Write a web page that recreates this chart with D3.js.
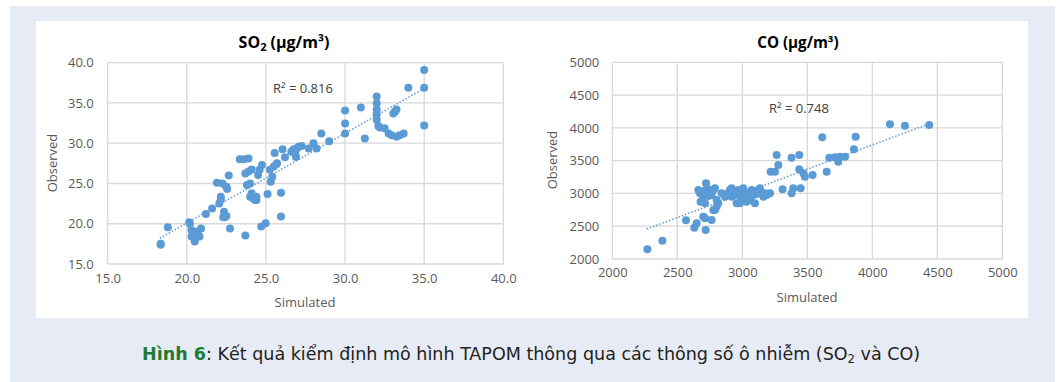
<!DOCTYPE html>
<html>
<head>
<meta charset="utf-8">
<script src="https://cdnjs.cloudflare.com/ajax/libs/d3/7.8.5/d3.min.js"></script>
<style>
  html, body { margin: 0; padding: 0; background: #fff; }
  svg text { font-family: "Open Sans", "Liberation Sans", sans-serif; }
</style>
</head>
<body>
<script>
// SO2 scatter: [simulated, observed]
var so2Points = [
  [18.35,17.4],[18.35,17.5],[18.8,19.55],[20.15,20.2],[20.2,20.0],[20.3,19.2],[20.4,18.8],[20.3,18.4],
  [20.5,18.0],[20.5,17.8],[20.7,18.6],[20.8,18.4],[20.9,19.4],[20.6,19.0],[21.2,21.2],[21.6,21.9],
  [21.9,25.1],[22.05,22.5],[22.15,23.35],[22.15,23.0],[22.25,25.0],[22.5,24.6],[22.55,24.3],[22.65,26.0],
  [22.35,21.5],[22.4,20.8],[22.5,20.95],[22.3,20.8],[22.73,19.4],[23.35,28.0],[23.6,28.0],[23.9,28.1],
  [23.7,26.25],[23.9,26.5],[24.1,26.75],[23.8,24.8],[24.0,25.0],[24.1,23.8],[24.0,23.35],[24.2,23.15],
  [24.3,22.95],[24.4,23.35],[24.4,22.95],[23.7,18.55],[24.5,26.05],[24.6,26.7],[24.75,27.3],[24.7,19.65],
  [24.98,20.05],[25.1,23.7],[25.25,26.7],[25.3,25.2],[25.4,25.85],[25.5,27.1],[25.65,27.4],[25.55,28.8],
  [25.7,27.5],[25.95,23.85],[25.95,20.9],[26.05,29.25],[26.2,28.25],[26.6,28.95],[26.75,29.25],[26.85,28.75],
  [26.9,28.3],[26.95,29.35],[27.05,29.55],[27.25,29.65],[26.8,29.0],[27.7,29.35],[28.0,30.0],[28.2,29.35],
  [28.5,31.2],[29.0,30.25],[30.0,34.05],[30.0,32.45],[30.0,31.2],[31.0,34.45],[31.25,30.6],[32.0,35.8],
  [32.0,34.95],[32.0,34.2],[32.0,33.6],[32.0,32.9],[32.1,32.15],[32.2,31.95],[32.5,31.85],[32.75,31.2],
  [32.95,31.0],[33.05,33.7],[33.15,33.9],[33.25,34.2],[33.25,30.8],[33.45,31.0],[33.7,31.2],[34.0,36.9],
  [35.0,39.1],[35.0,36.9],[35.0,32.2]
];
var so2Trend = [[18.3,18.2],[34.9,36.7]];
var so2Ticks = [15, 20, 25, 30, 35, 40];

// CO scatter: [simulated, observed]
var coPoints = [
  [2270,2150],[2385,2280],[2567,2590],[2631,2478],[2649,2544],[2718,2443],[2700,2646],[2713,2620],
  [2764,2595],[2662,3052],[2674,3002],[2679,2875],[2721,3154],[2726,3078],[2738,3002],[2751,3052],
  [2700,2926],[2713,2850],[2764,2977],[2777,3052],[2790,3078],[2803,2900],[2790,2748],[2803,2799],
  [2815,2850],[2777,2748],[2841,3002],[2867,2951],[2892,3002],[2905,3052],[2918,3078],[2918,2951],
  [2944,2977],[2956,2850],[2969,3052],[2982,2850],[2995,3002],[3008,3078],[3021,2951],[3033,2875],
  [3046,3002],[3059,2900],[3072,3052],[3085,2977],[3097,2850],[3123,3052],[3136,3078],[3149,3002],
  [3162,2951],[3174,3002],[3187,2977],[3213,3002],[3218,3332],[3251,3332],[3264,3586],[3277,3434],
  [3310,3063],[3379,3546],[3379,3002],[3392,3078],[3438,3586],[3438,3368],[3449,3078],[3469,3307],
  [3482,3256],[3541,3281],[3615,3856],[3649,3332],[3669,3546],[3713,3551],[3738,3485],[3751,3561],
  [3790,3561],[3859,3673],[3872,3866],[4136,4054],[4251,4034],[4438,4044],
  [2690,3030],[2740,2960],[2760,3010],[2880,2980],[2990,2920],[3110,2990]
];
var coTrend = [[2265,2457],[4431,4058]];
var coTicks = [2000, 2500, 3000, 3500, 4000, 4500, 5000];

var svg = d3.select("body").append("svg").attr("width", 1058).attr("height", 382);

// background frame
svg.append("rect").attr("x", 10).attr("y", 6).attr("width", 1045).attr("height", 376).attr("fill", "#e7ebf6");
svg.append("rect").attr("x", 36).attr("y", 21).attr("width", 992).attr("height", 297).attr("fill", "#ffffff");

function scatter(opt) {
  var x = d3.scaleLinear().domain(opt.xDomain).range([opt.left, opt.right]);
  var y = d3.scaleLinear().domain(opt.yDomain).range([opt.bottom, opt.top]);
  var g = svg.append("g");

  // grid
  g.selectAll(".gx").data(opt.ticks).enter().append("line")
    .attr("x1", function(d) { return x(d); }).attr("x2", function(d) { return x(d); })
    .attr("y1", opt.top).attr("y2", opt.bottom)
    .attr("stroke", "#d9d9d9").attr("stroke-width", 1.3);
  g.selectAll(".gy").data(opt.ticks).enter().append("line")
    .attr("y1", function(d) { return y(d); }).attr("y2", function(d) { return y(d); })
    .attr("x1", opt.left).attr("x2", opt.right)
    .attr("stroke", "#d9d9d9").attr("stroke-width", 1.3);

  // axes labels
  var xa = g.append("g").attr("transform", "translate(0," + opt.bottom + ")")
    .call(d3.axisBottom(x).tickValues(opt.ticks).tickFormat(opt.fmt).tickSize(0).tickPadding(opt.xPad));
  var ya = g.append("g").attr("transform", "translate(" + opt.left + ",0)")
    .call(d3.axisLeft(y).tickValues(opt.ticks).tickFormat(opt.fmt).tickSize(0).tickPadding(opt.yPad));
  [xa, ya].forEach(function(a) {
    a.select(".domain").remove();
    a.selectAll("text").attr("fill", "#595959").style("font-size", "13px")
      .style("font-family", "'Open Sans', sans-serif");
  });

  // trend line
  g.append("line")
    .attr("x1", x(opt.trend[0][0])).attr("y1", y(opt.trend[0][1]))
    .attr("x2", x(opt.trend[1][0])).attr("y2", y(opt.trend[1][1]))
    .attr("stroke", "#5b9bd5").attr("stroke-width", 1.6).attr("stroke-dasharray", "1.4,2");

  // points
  g.selectAll("circle").data(opt.data).enter().append("circle")
    .attr("cx", function(d) { return x(d[0]); })
    .attr("cy", function(d) { return y(d[1]); })
    .attr("r", 4).attr("fill", "#5b9bd5");

  // title
  var t = g.append("text").attr("x", opt.titleX).attr("y", 48).attr("text-anchor", "middle")
    .attr("font-weight", "bold").attr("font-size", opt.titleSize).attr("fill", "#000");
  t.append("tspan").text(opt.title);
  if (opt.sub) {
    t.append("tspan").attr("font-size", "11px").attr("dy", 3).text(opt.sub);
    t.append("tspan").attr("dy", -3).text(" (µg/m³)");
  } else {
    t.append("tspan").text(" (µg/m³)");
  }

  g.append("text").attr("x", opt.r2X).attr("y", opt.r2Y).attr("font-size", "13px")
    .attr("fill", "#404040").text(opt.r2);

  g.append("text").attr("x", opt.simX).attr("y", opt.simY).attr("text-anchor", "middle")
    .attr("font-size", "13px").attr("fill", "#595959").text("Simulated");
  g.append("text").attr("transform", "translate(" + opt.obsX + "," + opt.obsY + ") rotate(-90)")
    .attr("text-anchor", "middle").attr("font-size", "13px").attr("fill", "#595959").text("Observed");
}

scatter({
  data: so2Points, trend: so2Trend, ticks: so2Ticks, xDomain: [15, 40], yDomain: [15, 40],
  left: 107.7, right: 503.3, top: 62.7, bottom: 264, fmt: d3.format(".1f"), xPad: 10, yPad: 14,
  title: "SO", sub: "2", titleX: 284, titleSize: "16px", r2: "R² = 0.816", r2X: 273, r2Y: 93,
  simX: 305, simY: 307, obsX: 57, obsY: 163
});
scatter({
  data: coPoints, trend: coTrend, ticks: coTicks, xDomain: [2000, 5000], yDomain: [2000, 5000],
  left: 612.3, right: 1002.3, top: 62.3, bottom: 259, fmt: d3.format("d"), xPad: 9, yPad: 13,
  title: "CO", sub: null, titleX: 798, titleSize: "15.2px", r2: "R² = 0.748", r2X: 769, r2Y: 113,
  simX: 807, simY: 302, obsX: 557, obsY: 160
});

// caption
var cap = svg.append("g");
var ct = cap.append("text").attr("x", 0).attr("y", 0).attr("font-size", "18px").attr("fill", "#231f20")
  .style("font-family", "'DejaVu Sans', sans-serif").style("font-stretch", "condensed");
ct.append("tspan").attr("font-weight", "bold").attr("fill", "#1e7b34").text("Hình 6");
ct.append("tspan").text(": Kết quả kiểm định mô hình TAPOM thông qua các thông số ô nhiễm (SO");
ct.append("tspan").attr("font-size", "12px").attr("dy", 3).text("2");
ct.append("tspan").attr("dy", -3).text(" và CO)");
var cw = ct.node().getBBox().width;
var capLeft = 142, capRight = 921;
cap.attr("transform", "translate(" + capLeft + ",360) scale(" + ((capRight - capLeft) / cw) + ",1)");
</script>
</body>
</html>
